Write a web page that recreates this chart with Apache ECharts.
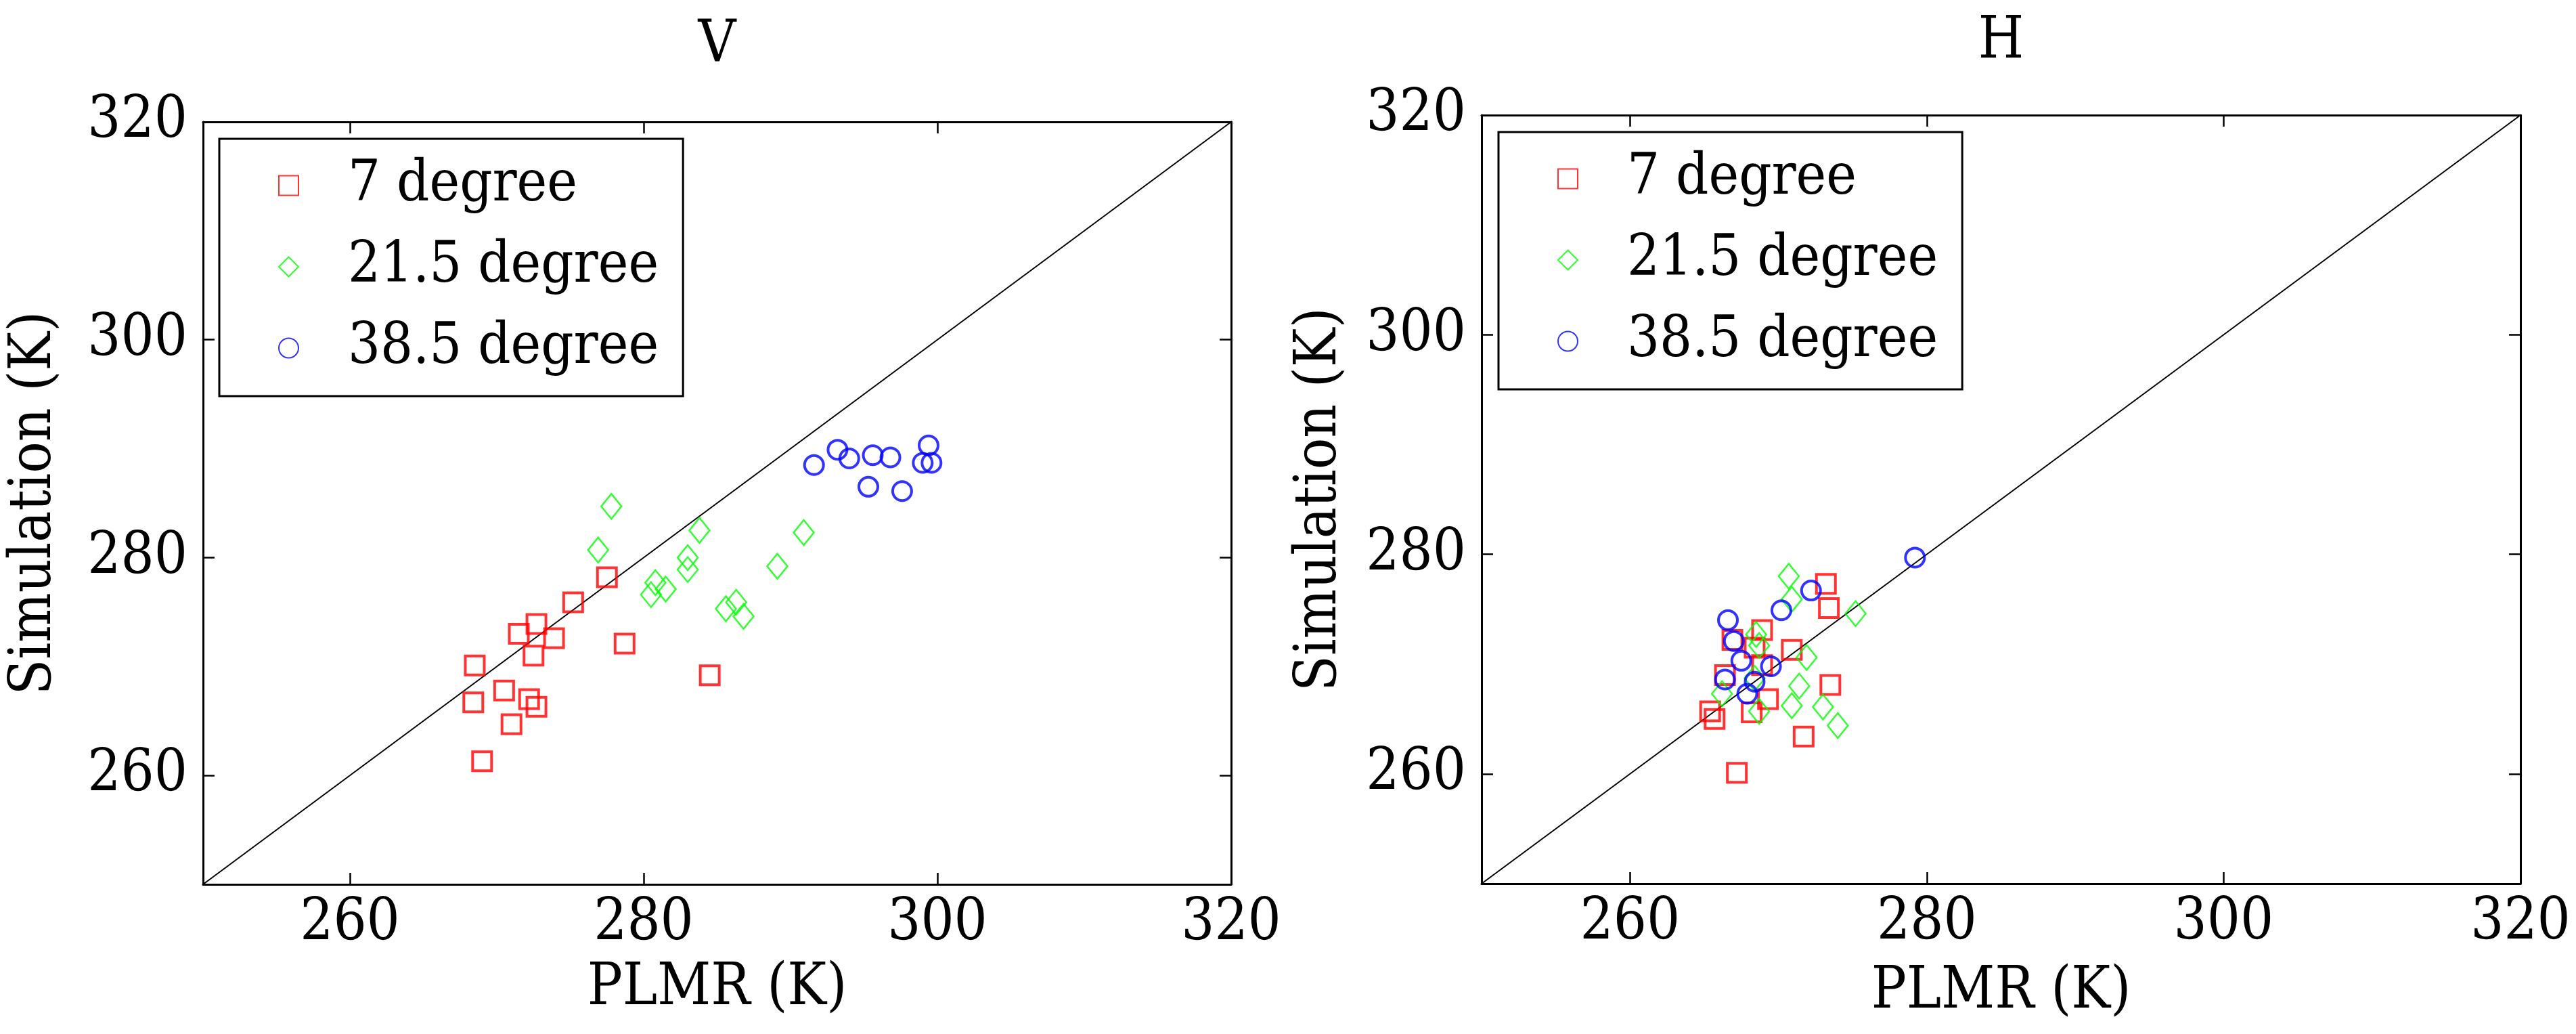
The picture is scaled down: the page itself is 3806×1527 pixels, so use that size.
<!DOCTYPE html>
<html>
<head>
<meta charset="utf-8">
<script src="https://cdn.jsdelivr.net/npm/echarts@6/dist/echarts.min.js"></script>
<style>
  html, body { margin: 0; padding: 0; background: #fff; }
  #chart { width: 3806px; height: 1527px; }
</style>
</head>
<body>
<div id="chart"></div>
<script>
// PLMR (x) vs Simulation (y), kelvin
const seriesNames = ['7 degree', '21.5 degree', '38.5 degree'];
const tickValues = [260, 280, 300, 320];
const axisRange = [250, 320];
const diagonal = [[250, 250], [320, 320]];

// V polarisation
const v7 = [[277.5, 278.2], [275.2, 275.9], [272.7, 273.9], [271.5, 273.0], [273.9, 272.6],
            [272.5, 271.0], [268.5, 270.1], [278.7, 272.1], [284.5, 269.2], [270.5, 267.8],
            [268.4, 266.7], [272.2, 267.0], [272.7, 266.3], [271.0, 264.7], [269.0, 261.3]];
const v21 = [[277.8, 284.7], [276.9, 280.7], [283.8, 282.5], [283.0, 280.0], [283.0, 278.9],
             [280.8, 277.7], [280.5, 276.6], [281.5, 277.1], [286.3, 275.9], [285.6, 275.3],
             [286.8, 274.6], [290.9, 282.3], [289.1, 279.2]];
const v38 = [[291.6, 288.5], [293.2, 289.9], [294.0, 289.1], [295.6, 289.4], [296.8, 289.2],
             [299.4, 290.3], [299.0, 288.7], [299.6, 288.7], [295.3, 286.5], [297.6, 286.1]];

// H polarisation
const h7 = [[273.2, 277.3], [273.4, 275.1], [268.9, 273.1], [266.9, 272.2], [270.9, 271.3],
            [268.9, 269.9], [268.4, 271.5], [266.4, 269.0], [269.3, 266.8], [268.2, 265.6],
            [265.4, 265.7], [265.7, 265.0], [273.5, 268.1], [271.7, 263.4], [267.2, 260.1]];
const h21 = [[270.7, 278.0], [270.9, 275.9], [275.2, 274.6], [268.5, 272.7], [268.7, 271.7],
             [271.9, 270.6], [271.4, 268.0], [270.9, 266.2], [273.0, 266.1], [274.0, 264.4],
             [266.2, 267.3], [268.7, 265.7], [268.4, 268.7]];
const h38 = [[279.2, 279.7], [272.2, 276.7], [270.2, 274.9], [266.6, 274.0], [267.0, 272.1],
             [267.5, 270.3], [269.5, 269.8], [266.4, 268.6], [268.4, 268.4], [267.9, 267.3]];

// the canvas only picked up DejaVu's serif here, condensed is closest to Times widths
const FONT = "'DejaVu Serif Condensed', 'DejaVu Serif'";

const panels = [
    {title: 'V', data: [v7, v21, v38], grid: {left: 300, top: 180, width: 1519, height: 1126},
     titleGap: 69, xNameGap: 112, yNameGap: 205, legend: {left: 324, top: 205}},
    {title: 'H', data: [h7, h21, h38], grid: {left: 2189, top: 170, width: 1535, height: 1135},
     titleGap: 64, xNameGap: 118, yNameGap: 195, legend: {left: 2214, top: 195}}
];

const markers = [
    {symbol: 'rect', size: 28, color: '#ff0000', border: 4},
    {symbol: 'diamond', size: [30, 37], color: '#00ff00', border: 2.5},
    {symbol: 'circle', size: 28, color: '#0000ff', border: 4}
];

function axisBase(showLabel) {
    return {
        type: 'value',
        min: axisRange[0],
        max: axisRange[1],
        splitLine: {show: false},
        axisLine: {show: true, onZero: false, lineStyle: {color: '#000', width: 3}},
        axisTick: {show: true, inside: true, length: 17, customValues: tickValues,
                   lineStyle: {color: '#000', width: 2.5}},
        axisLabel: {show: showLabel, customValues: tickValues, color: '#000',
                    fontFamily: FONT, fontSize: 86},
        nameTextStyle: {color: '#000', fontFamily: FONT, fontSize: 86},
        nameLocation: 'middle'
    };
}

const grid = [], xAxis = [], yAxis = [], series = [], legend = [];

panels.forEach((p, g) => {
    grid.push(p.grid);

    const xb = axisBase(true);
    Object.assign(xb, {gridIndex: g, position: 'bottom', name: 'PLMR (K)', nameGap: p.xNameGap});
    xb.axisLabel.margin = 16;
    const xt = axisBase(false);
    Object.assign(xt, {gridIndex: g, position: 'top', name: p.title, nameGap: p.titleGap});
    xAxis.push(xb, xt);

    const yl = axisBase(true);
    Object.assign(yl, {gridIndex: g, position: 'left', name: 'Simulation (K)', nameGap: p.yNameGap});
    yl.axisLabel.margin = 23;
    const yr = axisBase(false);
    Object.assign(yr, {gridIndex: g, position: 'right'});
    yAxis.push(yl, yr);

    series.push({
        type: 'line', xAxisIndex: g * 2, yAxisIndex: g * 2, data: diagonal,
        symbol: 'none', silent: true, z: 1,
        lineStyle: {color: '#000', width: 2}
    });

    p.data.forEach((d, i) => {
        const m = markers[i];
        series.push({
            type: 'scatter', name: seriesNames[i], xAxisIndex: g * 2, yAxisIndex: g * 2,
            data: d, symbol: m.symbol, symbolSize: m.size, z: 3,
            itemStyle: {color: 'rgba(0,0,0,0)', borderColor: m.color, borderWidth: m.border}
        });
    });

    legend.push({
        data: seriesNames,
        left: p.legend.left,
        top: p.legend.top,
        orient: 'vertical',
        padding: [19, 36, 21, 87],
        itemGap: 20,
        itemWidth: 29,
        itemHeight: 29,
        selectedMode: false,
        backgroundColor: '#fff',
        borderColor: '#000',
        borderWidth: 3,
        borderRadius: 0,
        textStyle: {color: '#000', fontFamily: FONT, fontSize: 84, lineHeight: 100,
                    padding: [0, 0, 0, 68]}
    });
});

const chart = echarts.init(document.getElementById('chart'), null, {renderer: 'canvas'});
chart.setOption({
    animation: false,
    backgroundColor: '#fff',
    grid: grid,
    xAxis: xAxis,
    yAxis: yAxis,
    legend: legend,
    series: series
});
</script>
</body>
</html>
